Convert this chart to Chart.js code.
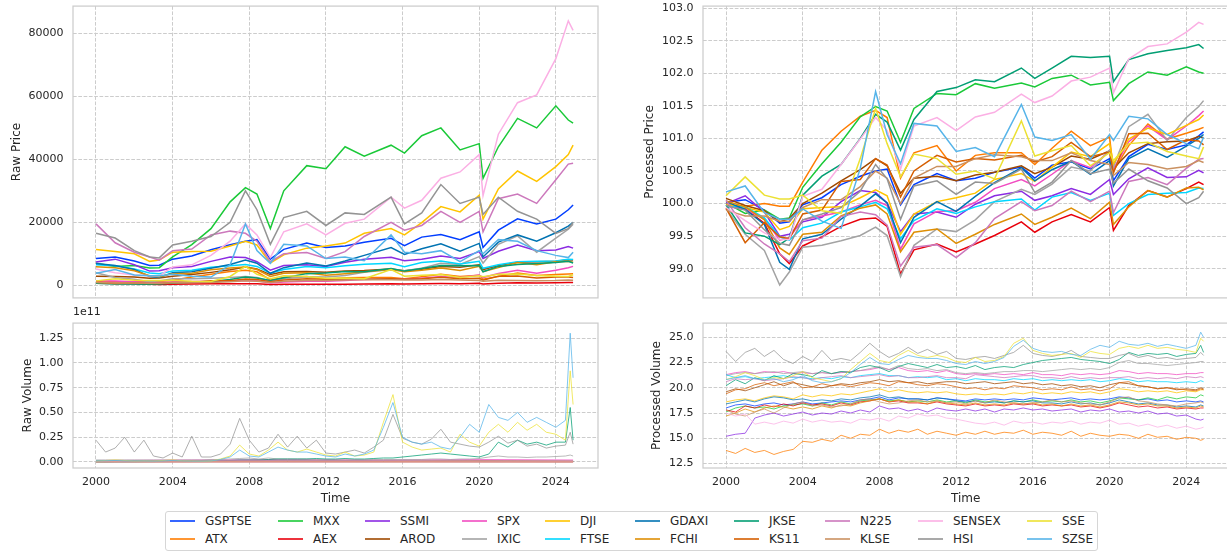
<!DOCTYPE html>
<html>
<head>
<meta charset="utf-8">
<script src="https://cdn.jsdelivr.net/npm/chart.js@4.4.1/dist/chart.umd.min.js"></script>
<style>
  html, body { margin: 0; padding: 0; background: #fff; }
  body { width: 1227px; height: 555px; position: relative; overflow: hidden;
         font-family: "DejaVu Sans", sans-serif; color: #262626; }
  canvas { position: absolute; }
  #legend { position: absolute; left: 165px; top: 511px; width: 931px; height: 38px;
            border: 1px solid #d6d6d6; border-radius: 3px; background: #fff; z-index: 1; }
  .lg-line { position: absolute; width: 25px; height: 0; border-top-width: 2px; border-top-style: solid; z-index: 2; }
  .lg-text { position: absolute; font-size: 12px; line-height: 14px; white-space: nowrap; z-index: 2; }
  #exp { position: absolute; left: 73px; top: 305px; font-size: 11px; line-height: 13px; }
</style>
</head>
<body>
<canvas id="rawPrice" width="610" height="324" style="left:0px;top:-10px"></canvas>
<canvas id="procPrice" width="610" height="324" style="left:630px;top:-10px"></canvas>
<canvas id="rawVolume" width="610" height="203" style="left:0px;top:307px"></canvas>
<canvas id="procVolume" width="610" height="203" style="left:630px;top:307px"></canvas>
<div id="exp">1e11</div>
<div id="legend"></div>
<script>
// series, in plotting order (legend is filled column by column)
const seriesNames = ["GSPTSE", "ATX", "MXX", "AEX", "SSMI", "AROD", "SPX", "IXIC", "DJI", "FTSE",
                     "GDAXI", "FCHI", "JKSE", "KS11", "N225", "KLSE", "SENSEX", "HSI", "SSE", "SZSE"];
const seriesColors = ["#023eff", "#ff7c00", "#1ac938", "#e8000b", "#8b2be2", "#9f4800", "#f14cc1", "#a3a3a3", "#ffc400", "#00d7ff",
                      "#0173b2", "#de8f05", "#029e73", "#d55e00", "#cc78bc", "#ca9161", "#fbafe4", "#949494", "#ece133", "#56b4e9"];

const xTicks = [2000, 2004, 2008, 2012, 2016, 2020, 2024];
const rawPriceTicks = [0, 20000, 40000, 60000, 80000];
const procPriceTicks = [99.0, 99.5, 100.0, 100.5, 101.0, 101.5, 102.0, 102.5, 103.0];
const rawVolumeTicks = [0, 0.25, 0.5, 0.75, 1.0, 1.25];
const procVolumeTicks = [12.5, 15.0, 17.5, 20.0, 22.5, 25.0];

const priceYears = [2000.0, 2001.0, 2002.0, 2002.8, 2003.3, 2004.0, 2005.0, 2006.0, 2007.0, 2007.8,
                    2008.4, 2009.1, 2009.8, 2011.0, 2012.0, 2013.0, 2014.0, 2015.4, 2016.1, 2017.0,
                    2018.0, 2019.0, 2020.0, 2020.2, 2021.0, 2022.0, 2023.0, 2024.0, 2024.65, 2024.9];

const rawPrice = [
  [8500, 9000, 7700, 6300, 6400, 8300, 9300, 11300, 12900, 14000, 14500, 8300, 11400, 13400, 12000, 12500, 13700, 14900, 12600, 15300, 16100, 14500, 17000, 12000, 17500, 21100, 19500, 21000, 24000, 25500],
  [1150, 1100, 1150, 1100, 1100, 1600, 2600, 3500, 4400, 4800, 4300, 1700, 2500, 2800, 1900, 2400, 2500, 2500, 2100, 2700, 3500, 2800, 3200, 1900, 2800, 3900, 3100, 3400, 3600, 3700],
  [7000, 6000, 6300, 5500, 5600, 9000, 12900, 18000, 26500, 31000, 29000, 18000, 30000, 38000, 37000, 44000, 41000, 44500, 42000, 47500, 50000, 43000, 45000, 34000, 44000, 53000, 50000, 57000, 52500, 51500],
  [650, 600, 480, 300, 260, 340, 390, 460, 510, 520, 460, 220, 320, 350, 310, 350, 400, 490, 420, 490, 550, 490, 610, 430, 630, 790, 720, 820, 900, 870],
  [7400, 8300, 6500, 4500, 4600, 5600, 6000, 7600, 9000, 8800, 7500, 4800, 6300, 6500, 6000, 7300, 8300, 8900, 7800, 8300, 9300, 8500, 10700, 8500, 10800, 12800, 11000, 11200, 12300, 11800],
  [2900, 2800, 2600, 2200, 2300, 2900, 3400, 4100, 4900, 5800, 5200, 3400, 4300, 4400, 4100, 4500, 4700, 5200, 4600, 5100, 6000, 5700, 6500, 5000, 6300, 7300, 7500, 7600, 8100, 8000],
  [1450, 1320, 1150, 830, 860, 1130, 1200, 1270, 1420, 1530, 1400, 720, 1060, 1290, 1300, 1480, 1830, 2100, 1900, 2270, 2800, 2500, 3250, 2450, 3750, 4770, 3850, 4750, 5600, 6000],
  [4000, 2500, 1950, 1150, 1400, 2050, 2100, 2250, 2450, 2800, 2450, 1300, 2100, 2700, 2600, 3100, 4100, 5000, 4600, 5400, 7000, 6600, 9100, 7000, 13000, 15700, 10500, 15000, 17800, 19400],
  [11400, 10700, 10000, 7600, 8000, 10500, 10700, 10800, 12500, 14000, 12800, 7100, 9700, 11800, 12500, 13400, 16500, 18000, 16000, 19900, 25000, 23300, 28600, 21000, 30600, 36300, 33000, 37700, 41500, 44500],
  [6500, 6200, 5200, 3900, 3700, 4500, 4800, 5700, 6200, 6600, 6000, 3800, 5000, 6000, 5600, 6200, 6700, 7000, 5900, 7200, 7700, 6800, 7600, 5400, 6500, 7500, 7600, 7700, 8300, 8200],
  [6900, 6300, 5000, 2800, 2500, 4000, 4300, 5400, 6600, 8000, 7000, 3800, 5600, 7100, 6100, 7700, 9500, 12000, 9800, 11600, 13200, 10800, 13300, 9000, 13700, 16000, 14000, 16700, 18800, 20000],
  [5900, 5600, 4600, 3000, 2700, 3700, 3800, 4900, 5500, 5800, 5000, 2800, 3800, 4000, 3200, 3700, 4300, 5000, 4300, 4800, 5500, 4700, 6000, 4300, 5600, 7200, 6500, 7500, 7600, 7300],
  [660, 420, 400, 350, 390, 750, 1000, 1200, 1800, 2600, 2300, 1500, 2400, 3700, 3900, 4400, 4300, 5300, 4500, 5300, 6300, 6200, 6300, 4300, 6000, 6600, 6900, 7200, 7600, 7100],
  [1000, 550, 750, 600, 580, 850, 900, 1400, 1450, 2000, 1800, 1100, 1650, 2100, 1900, 2000, 1950, 2100, 1900, 2050, 2550, 2050, 2200, 1600, 2900, 2950, 2300, 2650, 2600, 2450],
  [19500, 13500, 10500, 9000, 8000, 11000, 11500, 16000, 17200, 16500, 14000, 7500, 10000, 10400, 8500, 10700, 15500, 20000, 17500, 19000, 23500, 20000, 23500, 17000, 27500, 29000, 26000, 33500, 38500, 38800],
  [850, 700, 700, 650, 650, 800, 900, 900, 1100, 1400, 1250, 850, 1250, 1500, 1500, 1700, 1800, 1750, 1650, 1650, 1850, 1650, 1550, 1300, 1600, 1550, 1450, 1500, 1650, 1600],
  [5200, 4000, 3300, 3000, 3000, 5800, 6500, 9500, 14000, 19500, 16000, 8800, 17000, 19500, 16000, 19700, 21000, 28000, 24500, 27000, 34000, 36000, 41500, 28500, 48000, 58000, 60500, 72000, 84000, 81000],
  [16500, 15000, 11000, 9000, 8700, 12800, 14000, 15500, 20000, 30000, 24000, 13000, 21500, 23500, 19000, 23000, 22500, 28000, 19500, 23000, 32000, 26000, 28000, 22500, 28000, 23500, 21000, 16500, 18000, 20000],
  [1400, 2100, 1600, 1500, 1500, 1600, 1250, 1200, 2800, 6000, 3500, 2100, 3000, 2800, 2200, 2300, 2050, 5000, 2900, 3150, 3400, 2500, 3050, 2700, 3500, 3600, 3100, 2900, 2800, 3350],
  [3800, 5000, 3300, 3000, 3000, 3500, 2900, 2600, 6500, 19500, 11000, 7000, 13000, 12500, 8500, 9000, 7800, 16000, 10500, 10000, 11000, 7500, 11000, 10000, 14500, 14000, 11000, 9500, 8800, 10500]
];

const procPrice = [
  [100.02, 100.06, 99.90, 99.70, 99.72, 99.98, 100.09, 100.29, 100.42, 100.50, 100.53, 99.98, 100.29, 100.46, 100.35, 100.39, 100.48, 100.56, 100.39, 100.59, 100.64, 100.53, 100.69, 100.35, 100.72, 100.91, 100.83, 100.90, 101.04, 101.10],
  [99.98, 99.96, 100.0, 99.96, 99.96, 100.33, 100.82, 101.11, 101.34, 101.43, 101.32, 100.39, 100.78, 100.89, 100.50, 100.74, 100.78, 100.78, 100.60, 100.85, 101.11, 100.89, 101.02, 100.50, 100.89, 101.22, 100.99, 101.08, 101.14, 101.17],
  [100.01, 99.85, 99.90, 99.76, 99.78, 100.25, 100.61, 100.94, 101.33, 101.49, 101.42, 100.94, 101.46, 101.69, 101.67, 101.84, 101.77, 101.85, 101.79, 101.92, 101.97, 101.82, 101.86, 101.58, 101.84, 102.02, 101.97, 102.10, 102.02, 102.00],
  [99.97, 99.92, 99.70, 99.23, 99.08, 99.35, 99.49, 99.65, 99.76, 99.78, 99.65, 98.92, 99.29, 99.38, 99.26, 99.38, 99.51, 99.72, 99.56, 99.72, 99.83, 99.72, 99.94, 99.59, 99.97, 100.20, 100.10, 100.23, 100.33, 100.29],
  [100.0, 100.12, 99.87, 99.50, 99.53, 99.72, 99.79, 100.03, 100.20, 100.17, 100.01, 99.57, 99.84, 99.87, 99.79, 99.99, 100.12, 100.19, 100.05, 100.12, 100.23, 100.14, 100.37, 100.14, 100.38, 100.55, 100.40, 100.41, 100.51, 100.47],
  [100.08, 99.97, 99.89, 99.72, 99.77, 100.0, 100.16, 100.35, 100.52, 100.69, 100.58, 100.16, 100.39, 100.42, 100.35, 100.44, 100.48, 100.58, 100.46, 100.56, 100.73, 100.68, 100.81, 100.54, 100.78, 100.92, 100.95, 100.96, 101.03, 101.01],
  [99.96, 99.91, 99.77, 99.44, 99.48, 99.75, 99.81, 99.87, 99.98, 100.05, 99.97, 99.30, 99.69, 99.88, 99.89, 100.02, 100.23, 100.37, 100.27, 100.45, 100.66, 100.55, 100.81, 100.53, 100.95, 101.19, 100.98, 101.19, 101.35, 101.42],
  [99.92, 99.53, 99.28, 98.75, 98.95, 99.33, 99.36, 99.43, 99.51, 99.64, 99.51, 98.88, 99.36, 99.61, 99.57, 99.75, 100.03, 100.22, 100.14, 100.30, 100.56, 100.50, 100.82, 100.56, 101.18, 101.37, 100.97, 101.32, 101.49, 101.58],
  [99.99, 99.94, 99.87, 99.60, 99.65, 99.92, 99.94, 99.95, 100.09, 100.21, 100.12, 99.53, 99.84, 100.03, 100.09, 100.16, 100.37, 100.46, 100.34, 100.56, 100.79, 100.72, 100.92, 100.61, 100.99, 101.16, 101.06, 101.20, 101.29, 101.36],
  [99.95, 99.95, 99.78, 99.49, 99.44, 99.63, 99.70, 99.87, 99.95, 100.02, 99.92, 99.46, 99.74, 99.92, 99.85, 99.95, 100.03, 100.07, 99.90, 100.10, 100.17, 100.05, 100.16, 99.82, 100.0, 100.14, 100.16, 100.17, 100.24, 100.23],
  [100.03, 99.91, 99.68, 99.10, 98.99, 99.46, 99.53, 99.76, 99.96, 100.15, 100.01, 99.40, 99.79, 100.03, 99.88, 100.11, 100.32, 100.55, 100.35, 100.52, 100.65, 100.45, 100.66, 100.27, 100.69, 100.84, 100.71, 100.88, 101.00, 101.06],
  [100.04, 99.95, 99.75, 99.32, 99.22, 99.53, 99.56, 99.81, 99.93, 99.98, 99.84, 99.26, 99.56, 99.61, 99.39, 99.53, 99.68, 99.84, 99.68, 99.79, 99.93, 99.77, 100.02, 99.68, 99.95, 100.20, 100.10, 100.24, 100.25, 100.21],
  [99.98, 99.55, 99.50, 99.37, 99.47, 100.13, 100.42, 100.60, 101.00, 101.37, 101.25, 100.82, 101.29, 101.72, 101.78, 101.90, 101.87, 102.08, 101.92, 102.08, 102.26, 102.24, 102.26, 101.87, 102.21, 102.30, 102.35, 102.39, 102.44, 102.38],
  [99.93, 99.40, 99.71, 99.49, 99.46, 99.84, 99.90, 100.34, 100.37, 100.69, 100.59, 100.10, 100.50, 100.74, 100.64, 100.69, 100.67, 100.74, 100.64, 100.72, 100.94, 100.72, 100.79, 100.47, 101.07, 101.08, 100.83, 100.98, 100.96, 100.90],
  [100.05, 99.63, 99.38, 99.23, 99.11, 99.43, 99.47, 99.80, 99.87, 99.83, 99.67, 99.04, 99.33, 99.37, 99.17, 99.40, 99.77, 100.03, 99.89, 99.97, 100.19, 100.03, 100.19, 99.86, 100.34, 100.40, 100.29, 100.54, 100.68, 100.69],
  [99.9, 99.81, 99.81, 99.73, 99.73, 99.94, 100.06, 100.06, 100.26, 100.50, 100.39, 100.0, 100.39, 100.57, 100.57, 100.69, 100.75, 100.72, 100.66, 100.66, 100.78, 100.66, 100.60, 100.43, 100.63, 100.60, 100.53, 100.57, 100.66, 100.63],
  [99.94, 99.74, 99.55, 99.45, 99.45, 100.11, 100.22, 100.60, 100.99, 101.32, 101.12, 100.53, 101.19, 101.32, 101.12, 101.33, 101.40, 101.68, 101.55, 101.65, 101.88, 101.94, 102.08, 101.70, 102.22, 102.41, 102.45, 102.63, 102.78, 102.75],
  [99.97, 99.90, 99.60, 99.39, 99.36, 99.75, 99.84, 99.94, 100.19, 100.60, 100.38, 99.76, 100.27, 100.35, 100.14, 100.33, 100.31, 100.53, 100.17, 100.33, 100.66, 100.46, 100.53, 100.31, 100.53, 100.35, 100.24, 100.0, 100.09, 100.19],
  [100.12, 100.41, 100.13, 100.07, 100.07, 100.13, 99.89, 99.85, 100.69, 101.46, 100.92, 100.41, 100.76, 100.69, 100.45, 100.50, 100.38, 101.27, 100.73, 100.81, 100.89, 100.58, 100.78, 100.66, 100.92, 100.94, 100.80, 100.73, 100.69, 100.87],
  [100.18, 100.27, 99.86, 99.76, 99.76, 99.92, 99.73, 99.62, 100.54, 101.72, 101.06, 100.61, 101.23, 101.19, 100.80, 100.86, 100.72, 101.52, 101.02, 100.97, 101.06, 100.68, 101.06, 100.97, 101.34, 101.30, 101.06, 100.92, 100.84, 101.02]
];

// volume sampled every half year (plus two points at the very end)
const volYears = [2000.0, 2000.5, 2001.0, 2001.5, 2002.0, 2002.5, 2003.0, 2003.5, 2004.0, 2004.5,
                  2005.0, 2005.5, 2006.0, 2006.5, 2007.0, 2007.5, 2008.0, 2008.5, 2009.0, 2009.5,
                  2010.0, 2010.5, 2011.0, 2011.5, 2012.0, 2012.5, 2013.0, 2013.5, 2014.0, 2014.5,
                  2015.0, 2015.5, 2016.0, 2016.5, 2017.0, 2017.5, 2018.0, 2018.5, 2019.0, 2019.5,
                  2020.0, 2020.5, 2021.0, 2021.5, 2022.0, 2022.5, 2023.0, 2023.5, 2024.0, 2024.5,
                  2024.75, 2024.9];
// the flat, near-zero raw volumes only need a few points
const volYearsCoarse = [2000.0, 2005.0, 2010.0, 2015.0, 2020.0, 2024.9];

// raw volume, in units of 1e11
const rawVolume = [
  [0.003, 0.004, 0.006, 0.006, 0.007, 0.006],
  [0.0002, 0.0003, 0.0004, 0.0004, 0.0003, 0.0002],
  [0.002, 0.003, 0.003, 0.003, 0.003, 0.003],
  [0.005, 0.005, 0.006, 0.005, 0.004, 0.004],
  [0.0005, 0.001, 0.001, 0.001, 0.001, 0.0007],
  [0.004, 0.006, 0.006, 0.006, 0.007, 0.006],
  [0.015, 0.02, 0.025, 0.02, 0.025, 0.02],
  [0.02, 0.02, 0.02, 0.02, 0.02, 0.02, 0.02, 0.02, 0.02, 0.02,
   0.02, 0.02, 0.025, 0.025, 0.03, 0.035, 0.04, 0.03, 0.04, 0.03,
   0.03, 0.03, 0.03, 0.025, 0.02, 0.02, 0.02, 0.02, 0.02, 0.025,
   0.025, 0.025, 0.025, 0.025, 0.025, 0.03, 0.03, 0.025, 0.03, 0.03,
   0.035, 0.05, 0.06, 0.05, 0.05, 0.045, 0.05, 0.05, 0.055, 0.06,
   0.07, 0.06],
  [0.002, 0.002, 0.003, 0.002, 0.002, 0.002],
  [0.015, 0.01, 0.008, 0.007, 0.006, 0.005],
  [0.008, 0.007, 0.006, 0.005, 0.005, 0.004],
  [0.003, 0.004, 0.004, 0.004, 0.004, 0.003],
  [0.002, 0.002, 0.003, 0.003, 0.003, 0.004, 0.004, 0.005, 0.006, 0.006,
   0.008, 0.008, 0.01, 0.012, 0.015, 0.02, 0.02, 0.02, 0.025, 0.03,
   0.03, 0.03, 0.03, 0.035, 0.03, 0.03, 0.035, 0.03, 0.03, 0.035,
   0.04, 0.04, 0.05, 0.06, 0.07, 0.08, 0.09, 0.08, 0.07, 0.06,
   0.05, 0.08, 0.20, 0.15, 0.22, 0.18, 0.20, 0.17, 0.20, 0.20,
   0.55, 0.22],
  [0.004, 0.006, 0.006, 0.005, 0.008, 0.005],
  [0.012, 0.015, 0.014, 0.014, 0.012, 0.011],
  [0.004, 0.006, 0.008, 0.008, 0.01, 0.008],
  [0.0003, 0.0002, 0.0002, 0.0001, 0.0001, 0.0001],
  [0.22, 0.10, 0.14, 0.25, 0.10, 0.22, 0.06, 0.04, 0.09, 0.05,
   0.26, 0.05, 0.05, 0.08, 0.18, 0.44, 0.22, 0.10, 0.14, 0.28,
   0.15, 0.26, 0.14, 0.22, 0.09, 0.08, 0.10, 0.12, 0.09, 0.15,
   0.22, 0.48, 0.24, 0.20, 0.18, 0.23, 0.33, 0.20, 0.18, 0.16,
   0.15, 0.20, 0.26, 0.19, 0.22, 0.16, 0.18, 0.14, 0.16, 0.17,
   0.30, 0.18],
  [0.01, 0.015, 0.02, 0.015, 0.01, 0.012, 0.01, 0.015, 0.02, 0.012,
   0.01, 0.008, 0.01, 0.03, 0.06, 0.17, 0.08, 0.06, 0.12, 0.20,
   0.12, 0.10, 0.13, 0.10, 0.07, 0.06, 0.10, 0.06, 0.07, 0.10,
   0.40, 0.68, 0.20, 0.15, 0.12, 0.13, 0.14, 0.10, 0.28, 0.20,
   0.16, 0.30, 0.38, 0.30, 0.40, 0.32, 0.38, 0.30, 0.28, 0.22,
   0.92, 0.58],
  [0.01, 0.012, 0.015, 0.01, 0.01, 0.01, 0.008, 0.01, 0.015, 0.01,
   0.008, 0.008, 0.01, 0.025, 0.05, 0.12, 0.06, 0.05, 0.10, 0.15,
   0.12, 0.10, 0.10, 0.08, 0.06, 0.05, 0.08, 0.06, 0.08, 0.12,
   0.35, 0.60, 0.25, 0.20, 0.18, 0.20, 0.15, 0.13, 0.25, 0.38,
   0.30, 0.58, 0.45, 0.42, 0.50, 0.40, 0.45, 0.40, 0.35, 0.42,
   1.30, 0.85]
];

const procVolume = [
  [18.0, 18.3, 18.4, 18.2, 18.4, 18.5, 18.3, 18.4, 18.6, 18.4,
   18.5, 18.6, 18.7, 18.6, 18.8, 18.9, 19.1, 18.8, 19.0, 18.9,
   18.9, 18.8, 19.0, 18.9, 18.8, 18.7, 18.9, 18.8, 18.9, 18.8,
   18.9, 18.8, 19.0, 18.9, 18.8, 18.9, 19.0, 18.8, 18.9, 18.8,
   18.9, 19.1, 19.0, 18.8, 18.9, 18.7, 18.8, 18.6, 18.7, 18.6,
   18.7, 18.6],
  [13.8, 13.5, 14.0, 13.6, 13.8, 13.4, 13.7, 13.9, 14.7, 14.6,
   14.9, 14.7, 15.3, 15.0, 15.4, 15.3, 15.9, 15.5, 15.8, 15.6,
   15.9, 15.4, 15.7, 15.5, 15.3, 15.6, 15.4, 15.7, 15.4, 15.6,
   15.5, 15.8, 15.4, 15.6, 15.5, 15.3, 15.7, 15.2, 15.5, 15.3,
   15.2, 15.4, 15.3, 15.0, 15.4, 15.1, 15.2, 14.9, 15.1, 15.0,
   14.8, 14.9],
  [17.6, 18.0, 18.2, 18.0, 18.1, 17.9, 18.2, 18.3, 18.4, 18.2,
   18.5, 18.3, 18.6, 18.4, 18.7, 18.8, 18.9, 18.7, 18.8, 18.6,
   18.7, 18.6, 18.8, 18.6, 18.7, 18.5, 18.8, 18.6, 18.7, 18.5,
   18.7, 18.6, 18.8, 18.6, 18.7, 18.6, 18.8, 18.6, 18.7, 18.5,
   18.7, 19.0, 18.9, 18.8, 19.0, 18.8, 19.1, 18.9, 19.1, 19.0,
   19.3, 19.2],
  [17.8, 17.6, 18.2, 18.0, 18.3, 18.1, 18.4, 18.2, 18.5, 18.3,
   18.4, 18.2, 18.5, 18.3, 18.6, 18.7, 18.9, 18.6, 18.7, 18.5,
   18.5, 18.4, 18.6, 18.4, 18.3, 18.2, 18.4, 18.2, 18.3, 18.2,
   18.4, 18.3, 18.4, 18.2, 18.3, 18.2, 18.3, 18.1, 18.2, 18.0,
   18.2, 18.5, 18.3, 18.1, 18.2, 18.0, 18.1, 17.9, 18.0, 17.9,
   18.0, 18.0],
  [15.2, 15.4, 15.5, 17.0, 17.3, 17.5, 17.2, 17.4, 17.6, 17.3,
   17.5, 17.4, 17.7, 17.5, 17.8, 17.6, 18.2, 17.9, 18.0, 17.7,
   17.9, 17.6, 18.0, 17.8, 17.7, 17.9, 17.7, 17.9, 17.6, 17.9,
   17.8, 18.0, 17.8, 17.9, 17.7, 17.8, 17.9, 17.6, 17.8, 17.7,
   17.9, 17.6, 17.7, 17.5, 17.7, 17.4, 17.5, 17.2, 17.3, 16.9,
   16.8, 16.9],
  [19.6, 19.9, 19.7, 20.0, 20.3, 20.6, 20.2, 20.5, 20.3, 20.1,
   20.0, 20.2, 20.4, 20.3, 20.5, 20.6, 20.8, 20.6, 20.7, 20.5,
   20.6, 20.4, 20.5, 20.6, 20.6, 20.4, 20.5, 20.6, 20.4, 20.5,
   20.6, 20.4, 20.5, 20.3, 20.4, 20.2, 20.3, 20.1, 20.2, 20.0,
   20.3, 20.5, 20.4, 20.2, 20.1, 19.9, 20.0, 19.8, 19.9, 19.8,
   20.0, 19.9],
  [21.3, 21.5, 21.6, 21.4, 21.6, 21.5, 21.6, 21.4, 21.5, 21.4,
   21.5, 21.4, 21.5, 21.6, 21.7, 21.8, 22.0, 21.8, 22.0, 21.7,
   21.6, 21.7, 21.5, 21.7, 21.4, 21.3, 21.4, 21.3, 21.4, 21.3,
   21.4, 21.3, 21.5, 21.3, 21.3, 21.2, 21.4, 21.3, 21.4, 21.3,
   21.4, 21.7, 21.6, 21.4, 21.5, 21.4, 21.4, 21.3, 21.4, 21.4,
   21.5, 21.5],
  [21.2, 21.4, 21.5, 21.4, 21.5, 21.6, 21.4, 21.5, 21.6, 21.4,
   21.5, 21.4, 21.6, 21.6, 21.7, 21.9, 22.1, 21.8, 22.2, 21.9,
   21.8, 21.9, 21.7, 21.8, 21.5, 21.4, 21.5, 21.4, 21.5, 21.6,
   21.6, 21.7, 21.7, 21.6, 21.7, 21.8, 21.9, 21.8, 21.9, 21.8,
   22.0, 22.5, 22.7, 22.4, 22.4, 22.3, 22.2, 22.3, 22.4, 22.5,
   22.6, 22.6],
  [18.6, 18.8, 18.9, 18.7, 19.0, 19.2, 19.1, 18.9, 19.3, 19.1,
   19.3, 19.2, 19.4, 19.3, 19.5, 19.7, 19.9, 19.6, 19.8, 19.6,
   19.5, 19.6, 19.5, 19.6, 19.4, 19.3, 19.4, 19.3, 19.4, 19.3,
   19.5, 19.4, 19.6, 19.4, 19.5, 19.4, 19.6, 19.5, 19.6, 19.4,
   19.6, 19.9, 19.8, 19.6, 19.7, 19.6, 19.7, 19.5, 19.7, 19.6,
   19.8, 19.8],
  [21.3, 21.0, 21.1, 20.9, 21.0, 21.1, 21.2, 21.0, 21.0, 20.9,
   21.0, 20.9, 21.1, 21.0, 21.2, 21.3, 21.4, 21.2, 21.2, 21.0,
   21.1, 21.0, 21.1, 20.8, 20.9, 20.7, 20.9, 20.8, 20.8, 20.7,
   20.9, 20.8, 20.9, 20.7, 20.8, 20.7, 20.8, 20.7, 20.8, 20.6,
   20.7, 20.9, 20.8, 20.6, 20.7, 20.6, 20.6, 20.5, 20.6, 20.5,
   20.7, 20.6],
  [18.4, 18.6, 18.8, 18.6, 18.9, 19.1, 19.0, 18.8, 18.9, 18.7,
   18.8, 18.7, 18.9, 18.8, 19.0, 19.1, 19.3, 19.0, 19.1, 18.9,
   18.9, 18.8, 19.0, 18.9, 18.7, 18.6, 18.7, 18.5, 18.6, 18.5,
   18.7, 18.6, 18.7, 18.5, 18.5, 18.4, 18.6, 18.4, 18.5, 18.3,
   18.5, 18.8, 18.6, 18.4, 18.5, 18.3, 18.3, 18.1, 18.2, 18.1,
   18.3, 18.2],
  [17.2, 17.5, 17.9, 17.6, 18.0, 18.2, 18.1, 17.9, 18.1, 17.9,
   18.2, 18.0, 18.3, 18.2, 18.5, 18.7, 18.9, 18.6, 18.8, 18.6,
   18.6, 18.4, 18.7, 18.5, 18.4, 18.3, 18.5, 18.3, 18.4, 18.3,
   18.5, 18.4, 18.5, 18.3, 18.4, 18.2, 18.4, 18.2, 18.3, 18.1,
   18.3, 18.6, 18.5, 18.3, 18.4, 18.2, 18.2, 18.0, 18.1, 18.0,
   18.2, 18.1],
  [20.2, 20.8, 20.4, 21.0, 20.7, 21.2, 20.9, 21.4, 21.3, 21.1,
   21.7, 21.4, 21.6, 21.5, 22.0, 22.2, 22.0, 21.6, 22.1, 22.4,
   22.2, 22.0, 22.3, 22.0, 22.1, 21.9, 22.2, 21.8, 22.0, 22.1,
   22.0, 22.3, 22.5, 22.7, 22.8, 22.9, 23.0, 22.8, 22.7, 22.6,
   22.4, 22.8, 23.5, 23.2, 23.4, 23.3, 23.4, 23.1, 23.3, 23.4,
   24.2, 23.5],
  [19.4, 19.8, 19.9, 20.3, 20.5, 20.2, 20.4, 20.6, 20.0, 20.1,
   20.4, 20.2, 20.3, 20.1, 20.3, 20.5, 20.4, 20.2, 20.6, 20.5,
   20.3, 20.2, 20.4, 20.3, 20.1, 19.9, 20.0, 19.8, 20.0, 19.9,
   20.2, 20.1, 20.0, 19.8, 19.9, 19.8, 20.1, 19.8, 19.9, 19.7,
   19.9, 20.5, 20.6, 20.2, 20.1, 19.9, 20.0, 19.9, 19.8, 19.7,
   19.9, 19.8],
  [20.6, 20.9, 20.8, 20.9, 20.7, 20.8, 20.9, 21.1, 21.0, 20.8,
   21.0, 21.1, 21.2, 21.0, 21.1, 21.2, 21.3, 21.1, 21.2, 21.0,
   21.0, 21.1, 21.2, 21.0, 21.0, 20.9, 21.3, 21.2, 21.1, 21.0,
   21.1, 21.2, 21.2, 21.0, 21.0, 20.9, 21.1, 20.9, 21.0, 20.9,
   21.0, 21.0, 21.1, 20.9, 21.0, 20.9, 21.0, 20.9, 21.1, 21.0,
   21.1, 21.0],
  [17.8, 17.4, 17.2, 17.6, 17.9, 17.5, 18.0, 18.4, 18.6, 18.2,
   18.3, 18.1, 18.2, 18.4, 18.8, 18.9, 18.6, 18.4, 18.5, 18.7,
   18.8, 18.6, 18.7, 18.5, 18.6, 18.4, 18.7, 18.5, 18.8, 18.6,
   18.5, 18.4, 18.5, 18.6, 18.8, 18.6, 18.7, 18.5, 18.4, 18.3,
   18.6, 19.0, 19.1, 18.7, 18.6, 18.4, 18.3, 18.2, 18.4, 18.5,
   18.6, 18.5],
  [17.5, 17.2, 17.4, 16.4, 16.6, 16.4, 16.7, 16.5, 16.9, 16.6,
   16.8, 16.6, 16.7, 16.5, 16.9, 16.8, 17.0, 16.7, 17.2, 17.0,
   17.4, 17.2, 17.3, 17.0, 16.9, 16.7, 16.5, 16.4, 16.6, 16.3,
   16.7, 16.5, 16.6, 16.4, 16.6, 16.5, 16.7, 16.4, 16.6, 16.5,
   16.8, 16.4, 16.5, 16.2, 16.4, 16.1, 16.3, 16.0, 16.2, 15.9,
   16.0, 16.1],
  [23.6, 22.6, 23.5, 23.9, 23.1, 23.7, 22.8, 22.4, 23.1, 22.6,
   23.7, 22.7, 22.9, 22.7, 23.5, 24.4, 23.6, 23.0, 23.4, 24.0,
   23.4, 23.8, 23.3, 23.6, 22.9, 22.8, 23.0, 23.1, 22.9, 23.2,
   23.5, 24.2, 23.4, 23.2, 23.1, 23.3, 23.7, 23.1, 23.0, 22.9,
   22.9, 23.2, 23.4, 23.0, 23.2, 22.9, 23.0, 22.8, 22.9, 23.0,
   23.5, 23.2],
  [20.8, 21.1, 21.5, 21.2, 20.8, 21.0, 20.9, 21.2, 21.6, 21.0,
   20.8, 20.6, 20.9, 21.8, 22.6, 23.4, 22.7, 22.5, 23.2, 23.7,
   23.2, 23.0, 23.2, 23.0, 22.6, 22.5, 23.0, 22.6, 22.7, 23.1,
   24.4, 24.9, 23.7, 23.4, 23.2, 23.3, 23.4, 23.0, 23.6, 23.4,
   23.3, 23.9, 24.1, 23.9, 24.2, 23.9, 24.0, 23.8, 23.7, 23.5,
   24.9, 24.6],
  [20.8, 21.0, 21.2, 20.9, 20.8, 20.9, 20.6, 20.8, 21.2, 20.7,
   20.5, 20.6, 20.9, 21.5, 22.3, 23.0, 22.4, 22.3, 22.8, 23.2,
   23.0, 22.9, 22.9, 22.7, 22.4, 22.3, 22.6, 22.4, 22.6, 23.0,
   24.1, 24.7, 23.9, 23.6, 23.5, 23.6, 23.3, 23.2, 23.8, 24.2,
   24.0, 24.6, 24.3, 24.2, 24.4, 24.1, 24.3, 24.1, 23.9, 24.2,
   25.5, 25.0]
];

const X_MIN = 1998.8, X_MAX = 2026.2;

function rgba(hex, a) {
  const n = parseInt(hex.slice(1), 16);
  return `rgba(${(n >> 16) & 255},${(n >> 8) & 255},${n & 255},${a})`;
}
// colour blended onto white, for the legend samples
function tint(hex, a) {
  const n = parseInt(hex.slice(1), 16);
  const mix = c => Math.round(c * a + 255 * (1 - a));
  return `rgb(${mix((n >> 16) & 255)},${mix((n >> 8) & 255)},${mix(n & 255)})`;
}

Chart.defaults.font.family = "'DejaVu Sans', sans-serif";
Chart.defaults.color = '#262626';

// matplotlib-like box around every axes
const framePlugin = {
  id: 'frame',
  afterDraw(chart) {
    const a = chart.chartArea, ctx = chart.ctx;
    ctx.save();
    ctx.strokeStyle = '#cccccc';
    ctx.lineWidth = 1.25;
    ctx.strokeRect(a.left, a.top, a.right - a.left, a.bottom - a.top);
    ctx.restore();
  }
};

function buildDatasets(rows, years, coarseYears, width, alpha) {
  return seriesNames.map((name, i) => {
    const vals = rows[i];
    const xs = vals.length === years.length ? years : coarseYears;
    return {
      label: name,
      data: vals.map((v, j) => ({ x: xs[j], y: v })),
      borderColor: alpha < 1 ? rgba(seriesColors[i], alpha) : seriesColors[i],
      borderWidth: width,
      pointRadius: 0,
      tension: 0,
      order: seriesNames.length - 1 - i   // later series drawn on top
    };
  });
}

function makePanel(o) {
  const grid = { color: '#cccccc', lineWidth: 1, drawTicks: false };
  const border = { display: false, dash: [3.7, 1.6] };
  return new Chart(document.getElementById(o.id), {
    type: 'line',
    data: { datasets: o.datasets },
    options: {
      responsive: false,
      animation: false,
      events: [],
      layout: { padding: o.padding },
      plugins: { legend: { display: false }, tooltip: { enabled: false } },
      scales: {
        x: {
          type: 'linear', min: X_MIN, max: X_MAX,
          afterBuildTicks: s => { s.ticks = xTicks.map(v => ({ value: v })); },
          afterFit: s => { s.height = o.xHeight; },
          grid, border,
          ticks: { display: o.showX, padding: 8, maxRotation: 0, font: { size: 11 }, callback: v => String(v) },
          title: { display: o.showX, text: 'Time', font: { size: 12 }, padding: { top: 0, bottom: 3.8 } }
        },
        y: {
          type: 'linear', min: o.yMin, max: o.yMax,
          afterBuildTicks: s => { s.ticks = o.yTicks.map(v => ({ value: v })); },
          afterFit: s => { s.width = 73; },
          grid, border,
          ticks: { padding: 9.5, font: { size: 11 }, callback: o.fmt },
          title: { display: true, text: o.title, font: { size: 12 }, padding: { top: o.titlePad, bottom: 0 } }
        }
      }
    },
    plugins: [framePlugin]
  });
}

makePanel({
  id: 'rawPrice', title: 'Raw Price', titlePad: 9.5,
  datasets: buildDatasets(rawPrice, priceYears, priceYears, 1.5, 1),
  yMin: -4010, yMax: 88690, yTicks: rawPriceTicks, fmt: v => String(v),
  padding: { top: 13.5, left: 0, right: 12, bottom: 0 }, xHeight: 10, showX: false
});
makePanel({
  id: 'procPrice', title: 'Processed Price', titlePad: 12.8,
  datasets: buildDatasets(procPrice, priceYears, priceYears, 1.5, 1),
  yMin: 98.553, yMax: 103.03, yTicks: procPriceTicks, fmt: v => v.toFixed(1),
  padding: { top: 13.5, left: 0, right: 11.5, bottom: 0 }, xHeight: 10, showX: false
});
makePanel({
  id: 'rawVolume', title: 'Raw Volume', titlePad: 21.1,
  datasets: buildDatasets(rawVolume, volYears, volYearsCoarse, 1, 0.75),
  yMin: -0.061, yMax: 1.402, yTicks: rawVolumeTicks, fmt: v => v.toFixed(2),
  padding: { top: 10, left: 0, right: 12, bottom: 0 }, xHeight: 42, showX: true
});
makePanel({
  id: 'procVolume', title: 'Processed Volume', titlePad: 19.8,
  datasets: buildDatasets(procVolume, volYears, volYears, 1, 0.75),
  yMin: 12.06, yMax: 26.40, yTicks: procVolumeTicks, fmt: v => v.toFixed(1),
  padding: { top: 10, left: 0, right: 11.5, bottom: 0 }, xHeight: 42, showX: true
});

// figure legend: 10 columns x 2 rows, filled column by column
const legendLineX = [170, 278, 365, 462, 545, 635, 734, 825, 918, 1027];
const legendRowY = [521, 539];
seriesNames.forEach((name, i) => {
  const col = Math.floor(i / 2), row = i % 2;
  const line = document.createElement('div');
  line.className = 'lg-line';
  line.style.left = legendLineX[col] + 'px';
  line.style.top = (legendRowY[row] - 1) + 'px';
  line.style.borderTopColor = tint(seriesColors[i], 0.8);
  document.body.appendChild(line);
  const txt = document.createElement('div');
  txt.className = 'lg-text';
  txt.textContent = name;
  txt.style.left = (legendLineX[col] + 35) + 'px';
  txt.style.top = (legendRowY[row] - 7) + 'px';
  document.body.appendChild(txt);
});
</script>
</body>
</html>
